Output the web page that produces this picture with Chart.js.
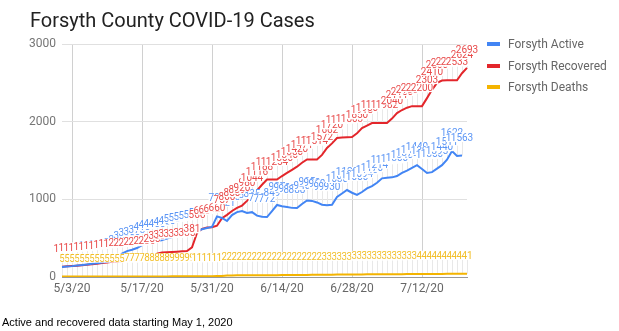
<!DOCTYPE html>
<html>
<head>
<meta charset="utf-8">
<script src="https://cdn.jsdelivr.net/npm/chart.js@4.4.1/dist/chart.umd.min.js"></script>
<style>
  body { margin: 0; background: #fff; }
  #wrap { position: relative; width: 619px; height: 331px; overflow: hidden; }
  #chart { position: absolute; left: 0; top: 0; }
  .title { position: absolute; left: 30px; top: 10px; font: 20px Roboto, sans-serif; line-height: 20px; color: #222; white-space: nowrap; }
  .leg { position: absolute; left: 508px; font: 12px Roboto, sans-serif; line-height: 14px; color: #666; white-space: nowrap; }
  .mark { position: absolute; left: 487px; width: 13px; height: 4px; }
  .note { position: absolute; left: 2px; top: 315px; font: 11px "Liberation Sans", Arial, sans-serif; line-height: 14px; color: #000; white-space: nowrap; }
</style>
</head>
<body>
<div id="wrap">
  <canvas id="chart" width="619" height="331"></canvas>
  <div class="title">Forsyth County COVID-19 Cases</div>
  <div class="mark" style="top:42px;background:#4285f4"></div>
  <div class="leg" style="top:37px">Forsyth Active</div>
  <div class="mark" style="top:64px;background:#e3262b"></div>
  <div class="leg" style="top:59px">Forsyth Recovered</div>
  <div class="mark" style="top:85px;background:#f4b400"></div>
  <div class="leg" style="top:80px">Forsyth Deaths</div>
  <div class="note">Active and recovered data starting May 1, 2020</div>
</div>
<script>
// dates 5/1/20 .. 7/21/20
const dates = [
  "5/1/20","5/2/20","5/3/20","5/4/20","5/5/20","5/6/20","5/7/20","5/8/20","5/9/20","5/10/20",
  "5/11/20","5/12/20","5/13/20","5/14/20","5/15/20","5/16/20","5/17/20","5/18/20","5/19/20","5/20/20",
  "5/21/20","5/22/20","5/23/20","5/24/20","5/25/20","5/26/20","5/27/20","5/28/20","5/29/20","5/30/20",
  "5/31/20","6/1/20","6/2/20","6/3/20","6/4/20","6/5/20","6/6/20","6/7/20","6/8/20","6/9/20",
  "6/10/20","6/11/20","6/12/20","6/13/20","6/14/20","6/15/20","6/16/20","6/17/20","6/18/20","6/19/20",
  "6/20/20","6/21/20","6/22/20","6/23/20","6/24/20","6/25/20","6/26/20","6/27/20","6/28/20","6/29/20",
  "6/30/20","7/1/20","7/2/20","7/3/20","7/4/20","7/5/20","7/6/20","7/7/20","7/8/20","7/9/20",
  "7/10/20","7/11/20","7/12/20","7/13/20","7/14/20","7/15/20","7/16/20","7/17/20","7/18/20","7/19/20",
  "7/20/20","7/21/20"
];

const active = [
  130,135,140,148,154,162,170,178,186,196,
  206,240,300,333,350,373,410,438,445,455,
  476,495,515,530,541,550,566,590,615,630,
  644,780,760,721,798,835,850,824,835,790,
  775,772,849,927,910,900,890,888,940,985,
  980,960,930,925,930,1030,1075,1120,1085,1056,
  1094,1140,1170,1214,1270,1278,1283,1300,1340,1370,
  1405,1440,1390,1339,1350,1395,1440,1511,1622,1558,
  1563
];

const recovered = [
  133,137,141,146,152,158,165,172,180,188,
  195,200,205,210,215,220,226,236,255,300,
  315,318,322,326,330,335,381,566,620,636,
  642,660,757,800,850,889,920,980,1044,1116,
  1188,1254,1254,1254,1300,1340,1380,1420,1471,1514,
  1514,1514,1572,1662,1720,1790,1795,1800,1803,1850,
  1918,1950,1982,1982,1982,1982,2040,2111,2150,2180,
  2200,2200,2200,2303,2410,2500,2530,2533,2533,2533,
  2624,2693
];

const deaths = [
  5,5,5,5,5,5,5,5,5,5,
  5,5,5,7,7,7,7,8,8,8,
  8,8,9,9,9,9,9,10,11,11,
  11,12,13,20,20,21,21,22,22,23,
  23,23,24,24,25,25,26,26,27,27,
  28,28,29,30,30,31,31,32,32,33,
  33,34,34,35,35,36,36,37,37,38,
  38,39,40,40,40,40,40,41,41,41,
  41,41
];

const yTicks = [0, 1000, 2000, 3000];

const labelColors = ['#5b95f5', '#e84a4a', '#f2bf2a'];

// stems + value labels above every point
const pointLabels = {
  id: 'pointLabels',
  beforeDatasetsDraw(chart) {
    const ctx = chart.ctx;
    ctx.save();
    ctx.strokeStyle = '#e8e8e8';
    ctx.lineWidth = 1;
    chart.data.datasets.forEach((ds, di) => {
      chart.getDatasetMeta(di).data.forEach(p => {
        const x = Math.round(p.x) + 0.5;
        ctx.beginPath();
        ctx.moveTo(x, p.y - 14);
        ctx.lineTo(x, p.y);
        ctx.stroke();
      });
    });
    ctx.restore();
  },
  afterDatasetsDraw(chart) {
    const ctx = chart.ctx;
    ctx.save();
    ctx.font = '10px Roboto, sans-serif';
    ctx.textAlign = 'center';
    ctx.textBaseline = 'alphabetic';
    chart.data.datasets.forEach((ds, di) => {
      chart.getDatasetMeta(di).data.forEach((p, i) => {
        const txt = String(ds.data[i]);
        const w = ctx.measureText(txt).width;
        const by = p.y - 15;
        ctx.fillStyle = '#fff';
        ctx.fillRect(p.x - w / 2, by - 8, w, 9);
        ctx.fillStyle = labelColors[di];
        ctx.fillText(txt, p.x, by);
      });
    });
    ctx.restore();
  }
};

new Chart('chart', {
  type: 'line',
  data: {
    labels: dates,
    datasets: [
      { label: 'Forsyth Active', data: active, borderColor: '#4285f4' },
      { label: 'Forsyth Recovered', data: recovered, borderColor: '#e3262b' },
      { label: 'Forsyth Deaths', data: deaths, borderColor: '#f4b400' }
    ]
  },
  options: {
    responsive: false,
    animation: false,
    layout: { padding: { left: 0, right: 152, top: 44, bottom: 34 } },
    elements: {
      line: { borderWidth: 2, tension: 0 },
      point: { radius: 0 }
    },
    plugins: {
      legend: { display: false },
      title: { display: false },
      tooltip: { enabled: false }
    },
    scales: {
      x: {
        type: 'category',
        offset: false,
        afterFit: s => { s.height = 20; },
        grid: {
          drawTicks: false,
          color: c => (c.index % 14 === 2 ? '#d0d0d0' : 'rgba(0,0,0,0)')
        },
        border: { display: true, color: '#999' },
        ticks: {
          autoSkip: false,
          maxRotation: 0,
          minRotation: 0,
          padding: 5,
          color: '#666',
          font: { family: 'Roboto', size: 12 },
          callback: (v, i) => (i % 14 === 2 ? dates[i] : '')
        }
      },
      y: {
        min: 0,
        max: 3000,
        afterFit: s => { s.width = 62; },
        afterBuildTicks: s => { s.ticks = yTicks.map(v => ({ value: v })); },
        grid: { drawTicks: false, color: '#e0e0e0' },
        border: { display: false },
        ticks: {
          padding: 6,
          color: '#757575',
          font: { family: 'Roboto', size: 12 },
          callback: v => String(v)
        }
      }
    }
  },
  plugins: [pointLabels]
});
</script>
</body>
</html>
